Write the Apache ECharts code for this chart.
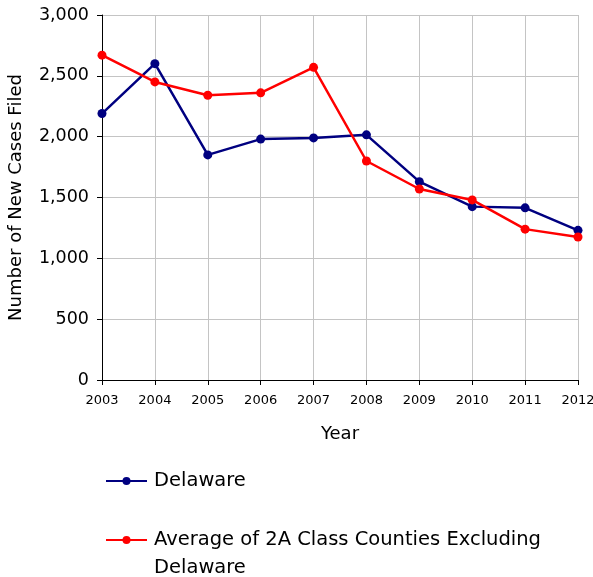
<!DOCTYPE html>
<html>
<head>
<meta charset="utf-8">
<script src="https://cdn.jsdelivr.net/npm/echarts@6/dist/echarts.min.js"></script>
<style>
html,body{margin:0;padding:0;background:#fff;}
#chart{width:593px;height:577px;}
</style>
</head>
<body>
<div id="chart"></div>
<script>
const years = ['2003','2004','2005','2006','2007','2008','2009','2010','2011','2012'];
const delaware = [2190, 2600, 1850, 1980, 1990, 2015, 1630, 1425, 1415, 1230];
const average2A = [2670, 2450, 2340, 2360, 2570, 1800, 1570, 1480, 1240, 1175];
const seriesNames = ['Delaware', 'Average of 2A Class Counties Excluding Delaware'];
const yTicks = [0, 500, 1000, 1500, 2000, 2500, 3000];
const xTitle = 'Year';
const yTitle = 'Number of New Cases Filed';

const FONT = 'DejaVu Sans';
const chart = echarts.init(document.getElementById('chart'), null, {renderer: 'canvas'});
chart.setOption({
  animation: false,
  backgroundColor: '#ffffff',
  textStyle: {fontFamily: FONT, color: '#000'},
  grid: {left: 102, right: 15, top: 15, bottom: 197, containLabel: false, outerBoundsMode: 'none'},
  xAxis: {
    type: 'category',
    data: years,
    boundaryGap: false,
    name: xTitle,
    nameLocation: 'middle',
    nameGap: 45,
    nameTextStyle: {fontFamily: FONT, fontSize: 18, color: '#000'},
    axisLine: {show: true, lineStyle: {color: '#000', width: 1}},
    axisTick: {show: true, length: 5, inside: false, lineStyle: {color: '#000'}},
    axisLabel: {fontFamily: FONT, fontSize: 13, color: '#000', margin: 14, interval: 0},
    splitLine: {show: true, lineStyle: {color: '#c4c4c4', width: 1}}
  },
  yAxis: {
    type: 'value',
    min: yTicks[0],
    max: yTicks[yTicks.length - 1],
    interval: 500,
    name: yTitle,
    nameLocation: 'middle',
    nameGap: 77,
    nameRotate: 90,
    nameTextStyle: {fontFamily: FONT, fontSize: 18, color: '#000'},
    axisLine: {show: true, lineStyle: {color: '#000', width: 1}},
    axisTick: {show: true, length: 5, lineStyle: {color: '#000'}},
    axisLabel: {
      fontFamily: FONT, fontSize: 17.5, color: '#000', margin: 13,
      formatter: v => v.toLocaleString('en-US')
    },
    splitLine: {show: true, lineStyle: {color: '#c4c4c4', width: 1}}
  },
  legend: {
    orient: 'vertical',
    left: 105,
    top: 467,
    height: 300,
    padding: 0,
    itemWidth: 41,
    itemHeight: 10,
    itemGap: 3,
    textStyle: {fontFamily: FONT, fontSize: 19.5, color: '#000', lineHeight: 28, padding: [0, 0, 0, 2]},
    data: [seriesNames[0], seriesNames[1]],
    formatter: name => name === seriesNames[1] ? ' \nAverage of 2A Class Counties Excluding\nDelaware' : name
  },
  series: [
    {
      name: seriesNames[0],
      type: 'line',
      data: delaware,
      color: '#000080',
      symbol: 'circle',
      symbolSize: 9,
      lineStyle: {width: 2.5, color: '#000080'},
      itemStyle: {color: '#000080'}
    },
    {
      name: seriesNames[1],
      type: 'line',
      data: average2A,
      color: '#ff0000',
      symbol: 'circle',
      symbolSize: 9,
      lineStyle: {width: 2.5, color: '#ff0000'},
      itemStyle: {color: '#ff0000'}
    }
  ]
});
</script>
</body>
</html>
